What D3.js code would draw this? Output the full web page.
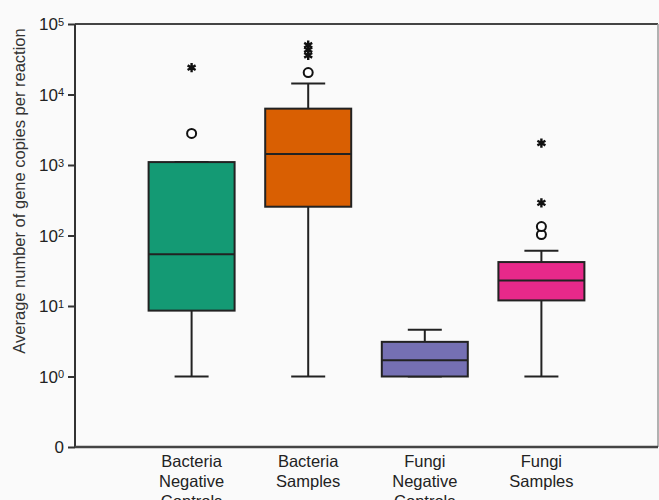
<!DOCTYPE html>
<html>
<head>
<meta charset="utf-8">
<script src="https://cdn.jsdelivr.net/npm/d3@7"></script>
<style>
  body { margin: 0; background: #fafafa; }
  text { font-family: "Liberation Sans", Arial, sans-serif; fill: #222; }
</style>
</head>
<body>
<div id="chart"></div>
<script>
var svgWidth = 659;
var svgHeight = 500;

// data
var categories = ["Bacteria Negative Controls", "Bacteria Samples", "Fungi Negative Controls", "Fungi Samples"];
var labelLines = [["Bacteria", "Negative", "Controls"], ["Bacteria", "Samples"], ["Fungi", "Negative", "Controls"], ["Fungi", "Samples"]];
var colors = ["#149a74", "#d95f02", "#7570b3", "#e7298a"];
var lowWhisker = [1, 1, 1, 1];
var q1 = [8.6, 256, 1, 12];
var median = [54, 1430, 1.7, 23];
var q3 = [1100, 6300, 3.1, 42];
var highWhisker = [1100, 14300, 4.6, 61];
var circleOutliers = [[2800], [20500], [], [103, 134]];
var starOutliers = [[24000], [36000, 43000, 50000], [], [290, 2050]];
var tickValues = [0.1, 1, 10, 100, 1000, 10000, 100000];
var tickExp = [null, "0", "1", "2", "3", "4", "5"];

var margin = { top: 24, right: 1, bottom: 53, left: 75 };
var width = svgWidth - margin.left - margin.right;
var height = svgHeight - margin.top - margin.bottom;

var svg = d3.select("#chart")
  .append("svg")
  .attr("width", svgWidth)
  .attr("height", svgHeight);

var chartGroup = svg.append("g")
  .attr("transform", `translate(${margin.left}, ${margin.top})`);

var xScale = d3.scalePoint()
  .domain(categories)
  .range([0, width])
  .padding(1);

var yScale = d3.scaleLog()
  .domain([0.1, 100000])
  .range([height, 0]);

var boxW = 86;
var capW = 34;

// frame: top and right
chartGroup.append("line")
  .attr("x1", 0).attr("x2", width).attr("y1", 0).attr("y2", 0)
  .attr("stroke", "#444").attr("stroke-width", 2);
chartGroup.append("line")
  .attr("x1", width).attr("x2", width).attr("y1", 0).attr("y2", height)
  .attr("stroke", "#999").attr("stroke-width", 1.5);

// left axis
var leftAxis = d3.axisLeft(yScale)
  .tickValues(tickValues)
  .tickSize(7)
  .tickFormat("");
var yAxisG = chartGroup.append("g").call(leftAxis);
yAxisG.select(".domain").attr("stroke", "#333").attr("stroke-width", 2).attr("d", `M0,0V${height}`);
yAxisG.selectAll(".tick line").attr("stroke", "#333").attr("stroke-width", 2);

yAxisG.selectAll(".tick").each(function(d, i) {
  var t = d3.select(this).append("text")
    .attr("x", -11)
    .attr("dy", "0.35em")
    .attr("text-anchor", "end")
    .attr("font-size", 17)
    .style("fill", "#222");
  if (tickExp[i] === null) {
    t.text("0");
  } else {
    t.append("tspan").text("10");
    t.append("tspan").attr("dy", "-0.45em").attr("font-size", 11).text(tickExp[i]);
  }
});

// bottom axis
chartGroup.append("line")
  .attr("x1", 0).attr("x2", width).attr("y1", height).attr("y2", height)
  .attr("stroke", "#444").attr("stroke-width", 2.5);

// boxes
var boxes = chartGroup.selectAll(".box")
  .data(categories)
  .enter().append("g")
  .attr("class", "box");

boxes.append("line")
  .attr("x1", d => xScale(d)).attr("x2", d => xScale(d))
  .attr("y1", (d, i) => yScale(lowWhisker[i]))
  .attr("y2", (d, i) => yScale(highWhisker[i]))
  .attr("stroke", "#222").attr("stroke-width", 2);

boxes.append("line")
  .attr("x1", d => xScale(d) - capW / 2).attr("x2", d => xScale(d) + capW / 2)
  .attr("y1", (d, i) => yScale(lowWhisker[i]))
  .attr("y2", (d, i) => yScale(lowWhisker[i]))
  .attr("stroke", "#222").attr("stroke-width", 2);

boxes.append("line")
  .attr("x1", d => xScale(d) - capW / 2).attr("x2", d => xScale(d) + capW / 2)
  .attr("y1", (d, i) => yScale(highWhisker[i]))
  .attr("y2", (d, i) => yScale(highWhisker[i]))
  .attr("stroke", "#222").attr("stroke-width", 2);

boxes.append("rect")
  .attr("x", d => xScale(d) - boxW / 2)
  .attr("width", boxW)
  .attr("y", (d, i) => yScale(q3[i]))
  .attr("height", (d, i) => yScale(q1[i]) - yScale(q3[i]))
  .attr("fill", (d, i) => colors[i])
  .attr("stroke", "#222").attr("stroke-width", 2);

boxes.append("line")
  .attr("x1", d => xScale(d) - boxW / 2).attr("x2", d => xScale(d) + boxW / 2)
  .attr("y1", (d, i) => yScale(median[i]))
  .attr("y2", (d, i) => yScale(median[i]))
  .attr("stroke", "#222").attr("stroke-width", 2);

// outliers
boxes.each(function(d, i) {
  var g = d3.select(this);
  g.selectAll(".circ")
    .data(circleOutliers[i])
    .enter().append("circle")
    .attr("cx", xScale(d))
    .attr("cy", v => yScale(v))
    .attr("r", 4.5)
    .attr("fill", "#fff")
    .attr("stroke", "#111").attr("stroke-width", 2);
  g.selectAll(".star")
    .data(starOutliers[i])
    .enter().append("path")
    .attr("d", d3.symbol().type(d3.symbolAsterisk).size(60))
    .attr("transform", v => `translate(${xScale(d)}, ${yScale(v)})`)
    .attr("stroke", "#111").attr("stroke-width", 2.4);
});

// category labels (third line runs off the bottom edge, as in the source)
var labels = chartGroup.selectAll(".xlabel")
  .data(categories)
  .enter().append("text")
  .attr("class", "xlabel")
  .attr("text-anchor", "middle")
  .attr("font-size", 16.5)
  .attr("y", height + 20);

labels.each(function(d, i) {
  var t = d3.select(this);
  labelLines[i].forEach(function(line, j) {
    t.append("tspan")
      .attr("x", xScale(d))
      .attr("dy", j === 0 ? 0 : 20)
      .text(line);
  });
});

// y axis title
svg.append("text")
  .attr("transform", "rotate(-90)")
  .attr("x", -191)
  .attr("y", 25)
  .attr("text-anchor", "middle")
  .attr("font-size", 16.5)
  .style("fill", "#333")
  .text("Average number of gene copies per reaction");
</script>
</body>
</html>
